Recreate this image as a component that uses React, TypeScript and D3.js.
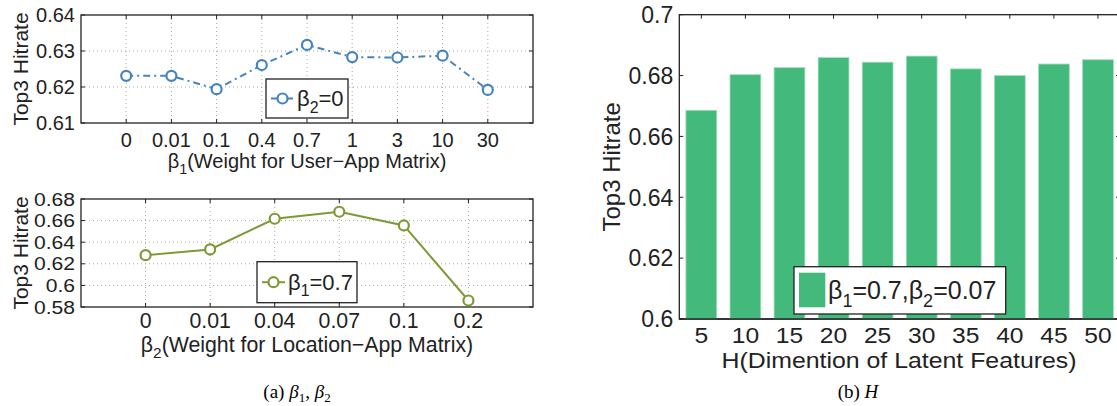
import React from 'react';
import * as d3 from 'd3';

// panel (a) top: beta1 sweep with beta2 = 0
const b1Labels = ['0', '0.01', '0.1', '0.4', '0.7', '1', '3', '10', '30'];
const b1Values = [0.6231, 0.6231, 0.6194, 0.6261, 0.6317, 0.6283, 0.6282, 0.6287, 0.6192];
const b1Ticks = [0.61, 0.62, 0.63, 0.64];

// panel (a) bottom: beta2 sweep with beta1 = 0.7
const b2Labels = ['0', '0.01', '0.04', '0.07', '0.1', '0.2'];
const b2Values = [0.628, 0.6333, 0.6617, 0.6682, 0.6555, 0.586];
const b2Ticks = [0.58, 0.6, 0.62, 0.64, 0.66, 0.68];

// panel (b): latent dimension H
const hLabels = ['5', '10', '15', '20', '25', '30', '35', '40', '45', '50'];
const hValues = [0.6686, 0.6803, 0.6826, 0.6859, 0.6844, 0.6864, 0.6822, 0.68, 0.6838, 0.6852];
const hTicks = [0.6, 0.62, 0.64, 0.66, 0.68, 0.7];

const SANS = '"Liberation Sans", Arial, Helvetica, sans-serif';
const SERIF = '"Liberation Serif", "Times New Roman", serif';
const AXIS = '#222';
const BLUE = '#4784bf';
const OLIVE = '#7c9a35';
const GREEN = '#44b97c';

const fmt = (v: number) => String(+v.toFixed(2));

const Beta = ({ sub, rest, size }: { sub: string; rest: string; size: number }) => (
  <>
    <tspan>β</tspan>
    <tspan dy={size * 0.3} fontSize={size * 0.72}>{sub}</tspan>
    <tspan dy={-size * 0.3}>{rest}</tspan>
  </>
);

type LineProps = {
  labels: string[];
  values: number[];
  ticks: number[];
  top: number;
  bottom: number;
  color: string;
  dash?: string;
  fs: number;
  yfs: number;
  ysx: number;
  xLabelY: number;
  xTickY: number;
  xSub: string;
  xRest: string;
  legend: { x: number; y: number; w: number; h: number; sub: string; rest: string };
};

const LinePanel = (p: LineProps) => {
  const left = 81;
  const right = 533;
  const x = d3.scalePoint<string>().domain(p.labels).range([left, right]).padding(1);
  const y = d3.scaleLinear().domain([p.ticks[0], p.ticks[p.ticks.length - 1]]).range([p.bottom, p.top]);
  const line = d3
    .line<number>()
    .x((_, i) => x(p.labels[i]) as number)
    .y((d) => y(d));
  const L = p.legend;
  const ly = L.y + L.h / 2;
  return (
    <g fontFamily={SANS} fill={AXIS}>
      {/* grid */}
      {p.ticks.slice(1, -1).map((t) => (
        <line key={'gy' + t} x1={left} x2={right} y1={y(t)} y2={y(t)} stroke="#aaa" strokeDasharray="1,3" />
      ))}
      {p.labels.map((l) => (
        <line key={'gx' + l} x1={x(l)} x2={x(l)} y1={p.top} y2={p.bottom} stroke="#aaa" strokeDasharray="1,3" />
      ))}
      {/* ticks */}
      {p.ticks.map((t) => (
        <g key={'ty' + t} stroke={AXIS}>
          <line x1={left} x2={left + 4} y1={y(t)} y2={y(t)} />
          <line x1={right - 4} x2={right} y1={y(t)} y2={y(t)} />
        </g>
      ))}
      {p.labels.map((l) => (
        <g key={'tx' + l} stroke={AXIS}>
          <line x1={x(l)} x2={x(l)} y1={p.bottom} y2={p.bottom - 4} />
          <line x1={x(l)} x2={x(l)} y1={p.top} y2={p.top + 4} />
        </g>
      ))}
      <rect x={left} y={p.top} width={right - left} height={p.bottom - p.top} fill="none" stroke={AXIS} strokeWidth={1.3} />
      {/* series */}
      <path d={line(p.values) || ''} fill="none" stroke={p.color} strokeWidth={2} strokeDasharray={p.dash} />
      {p.values.map((v, i) => (
        <circle key={i} cx={x(p.labels[i])} cy={y(v)} r={5} fill="#fff" stroke={p.color} strokeWidth={2.2} />
      ))}
      {/* tick labels */}
      {p.ticks.map((t) => (
        <text
          key={'ly' + t}
          transform={`translate(${left - 6},${y(t)}) scale(${p.ysx},1)`}
          dy="0.36em"
          textAnchor="end"
          fontSize={p.yfs}
        >
          {fmt(t)}
        </text>
      ))}
      {p.labels.map((l) => (
        <text key={'lx' + l} x={x(l)} y={p.xTickY} textAnchor="middle" fontSize={p.fs}>
          {l}
        </text>
      ))}
      <text x={(left + right) / 2} y={p.xLabelY} textAnchor="middle" fontSize={p.fs}>
        <Beta sub={p.xSub} rest={p.xRest} size={p.fs} />
      </text>
      <text transform={`translate(20,${(p.top + p.bottom) / 2}) rotate(-90)`} textAnchor="middle" dy="0.36em" fontSize={21}>
        Top3 Hitrate
      </text>
      {/* legend */}
      <rect x={L.x} y={L.y} width={L.w} height={L.h} fill="#fff" stroke={AXIS} strokeWidth={1.3} />
      <line x1={L.x + 5} x2={L.x + 28} y1={ly} y2={ly} stroke={p.color} strokeWidth={2} strokeDasharray={p.dash ? '7,3,2,3' : undefined} />
      <circle cx={L.x + 16.5} cy={ly} r={5} fill="#fff" stroke={p.color} strokeWidth={2.2} />
      <text x={L.x + 31} y={ly + 7.5} fontSize={22}>
        <Beta sub={L.sub} rest={L.rest} size={22} />
      </text>
    </g>
  );
};

const BarPanel = () => {
  const left = 679.3;
  const right = 1120;
  const top = 14.7;
  const bottom = 319;
  const x = d3.scaleBand<string>().domain(hLabels).range([left, right]).paddingInner(0.3).paddingOuter(0.15);
  const y = d3.scaleLinear().domain([0.6, 0.7]).range([bottom, top]);
  const fs = 23;
  const cx = (l: string) => (x(l) as number) + x.bandwidth() / 2;
  return (
    <g fontFamily={SANS} fill={AXIS}>
      {hLabels.map((l) => (
        <line key={'tt' + l} x1={cx(l)} x2={cx(l)} y1={top} y2={top + 4} stroke={AXIS} />
      ))}
      {hTicks.map((t) => (
        <g key={'ty' + t} stroke={AXIS}>
          <line x1={left} x2={left + 4} y1={y(t)} y2={y(t)} />
          <line x1={right - 4} x2={right} y1={y(t)} y2={y(t)} />
        </g>
      ))}
      <rect x={left} y={top} width={right - left} height={bottom - top} fill="none" stroke={AXIS} strokeWidth={1.3} />
      {hValues.map((v, i) => (
        <rect
          key={i}
          x={x(hLabels[i])}
          y={y(v)}
          width={x.bandwidth()}
          height={bottom - y(v)}
          fill={GREEN}
          stroke="#a6dfbf"
          strokeWidth={0.8}
        />
      ))}
      <line x1={left} x2={right} y1={bottom} y2={bottom} stroke={AXIS} strokeWidth={1.3} />
      {hTicks.map((t) => (
        <text key={'ly' + t} x={left - 6} y={y(t)} dy="0.36em" textAnchor="end" fontSize={fs}>
          {fmt(t)}
        </text>
      ))}
      {hLabels.map((l) => (
        <text key={'lx' + l} transform={`translate(${cx(l)},343) scale(1.12,1)`} textAnchor="middle" fontSize={22}>
          {l}
        </text>
      ))}
      <text transform="translate(899,367.5) scale(1.13,1)" textAnchor="middle" fontSize={22}>
        H(Dimention of Latent Features)
      </text>
      <text transform={`translate(611,${(top + bottom) / 2}) rotate(-90)`} textAnchor="middle" dy="0.36em" fontSize={24}>
        Top3 Hitrate
      </text>
      {/* legend */}
      <rect x={794} y={266.7} width={211.7} height={47.3} fill="#fff" stroke={AXIS} strokeWidth={1.3} />
      <rect x={799} y={272.7} width={26.3} height={34.6} fill={GREEN} />
      <text x={828} y={299} fontSize={25}>
        <Beta sub="1" rest="=0.7," size={25} />
        <Beta sub="2" rest="=0.07" size={25} />
      </text>
    </g>
  );
};

export default function App() {
  return (
    <svg width={1117} height={406} style={{ position: 'absolute', left: 0, top: 0, background: '#fff' }}>
      <LinePanel
        labels={b1Labels}
        values={b1Values}
        ticks={b1Ticks}
        top={15}
        bottom={123}
        color={BLUE}
        dash="7,4,2,4"
        fs={20}
        yfs={20}
        ysx={1}
        xTickY={147}
        xLabelY={168}
        xSub="1"
        xRest="(Weight for User−App Matrix)"
        legend={{ x: 266, y: 79, w: 82, h: 39, sub: '2', rest: '=0' }}
      />
      <LinePanel
        labels={b2Labels}
        values={b2Values}
        ticks={b2Ticks}
        top={199}
        bottom={307}
        color={OLIVE}
        fs={21.3}
        yfs={18.5}
        ysx={1.14}
        xTickY={328}
        xLabelY={351.5}
        xSub="2"
        xRest="(Weight for Location−App Matrix)"
        legend={{ x: 257, y: 261.7, w: 100, h: 41, sub: '1', rest: '=0.7' }}
      />
      <BarPanel />
      <text x={297} y={398} textAnchor="middle" fontFamily={SERIF} fontSize={19}>
        (a)  <tspan fontStyle="italic">β</tspan>
        <tspan dy={4} fontSize={13}>1</tspan>
        <tspan dy={-4}>, </tspan>
        <tspan fontStyle="italic">β</tspan>
        <tspan dy={4} fontSize={13}>2</tspan>
      </text>
      <text x={858} y={398} textAnchor="middle" fontFamily={SERIF} fontSize={19}>
        (b)  <tspan fontStyle="italic">H</tspan>
      </text>
    </svg>
  );
}
